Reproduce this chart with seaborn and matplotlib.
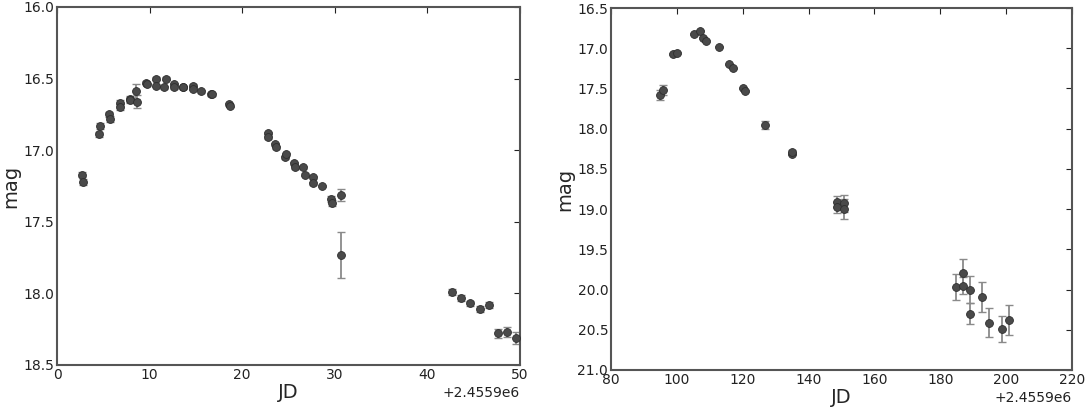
import numpy as np
import pandas as pd
import matplotlib
matplotlib.use("Agg")
import matplotlib.pyplot as plt
import seaborn as sns

JD0 = 2455900

# left panel: days after JD0, magnitude, error
jd_a = [2.74, 2.85, 4.58, 4.65, 5.66, 5.74, 6.75, 6.82, 7.83, 7.90, 8.55, 8.69,
        9.63, 9.70, 10.68, 10.71, 11.55, 11.72, 12.59, 12.66, 13.56, 13.62,
        14.64, 14.72, 15.58, 16.67, 16.72, 18.58, 18.65, 22.76, 22.80, 23.56,
        23.67, 24.60, 24.68, 25.58, 25.65, 26.55, 26.73, 27.60, 27.67, 28.64,
        29.62, 29.73, 30.63, 30.70, 42.64, 43.61, 44.59, 45.63, 46.61, 47.62,
        48.59, 49.60]
mag_a = [17.17, 17.22, 16.89, 16.83, 16.75, 16.78, 16.67, 16.70, 16.64, 16.65,
         16.59, 16.66, 16.53, 16.54, 16.50, 16.55, 16.56, 16.50, 16.54, 16.56,
         16.56, 16.56, 16.55, 16.57, 16.59, 16.61, 16.61, 16.68, 16.69, 16.88,
         16.91, 16.96, 16.98, 17.05, 17.03, 17.09, 17.12, 17.12, 17.17, 17.19,
         17.23, 17.25, 17.34, 17.37, 17.31, 17.73, 17.99, 18.03, 18.07, 18.11,
         18.08, 18.28, 18.27, 18.31]
err_a = [0.02, 0.02, 0.02, 0.02, 0.02, 0.02, 0.02, 0.02, 0.02, 0.02,
         0.05, 0.045, 0.01, 0.01, 0.01, 0.01, 0.01, 0.01, 0.01, 0.01,
         0.01, 0.01, 0.01, 0.01, 0.01, 0.01, 0.01, 0.01, 0.01, 0.01,
         0.01, 0.01, 0.01, 0.01, 0.01, 0.01, 0.01, 0.01, 0.01, 0.01,
         0.01, 0.01, 0.02, 0.02, 0.042, 0.162, 0.02, 0.02, 0.02, 0.02,
         0.02, 0.03, 0.038, 0.04]

# right panel
jd_b = [94.88, 95.89, 98.92, 100.13, 105.2, 107.03, 107.84, 108.85, 112.9,
        115.9, 117.1, 119.98, 120.8, 126.87, 134.97, 135.1, 148.7, 148.7,
        150.7, 150.9, 184.77, 187.0, 187.0, 188.9, 188.9, 192.8, 194.8,
        198.7, 201.0]
mag_b = [17.58, 17.52, 17.07, 17.06, 16.82, 16.78, 16.87, 16.91, 16.98,
         17.20, 17.25, 17.50, 17.53, 17.96, 18.31, 18.29, 18.91, 18.98,
         18.93, 19.00, 19.97, 19.80, 19.95, 20.00, 20.30, 20.09, 20.41,
         20.49, 20.38]
err_b = [0.06, 0.06, 0.01, 0.01, 0.01, 0.01, 0.01, 0.01, 0.01,
         0.01, 0.01, 0.01, 0.01, 0.05, 0.02, 0.02, 0.07, 0.07,
         0.10, 0.12, 0.16, 0.18, 0.11, 0.17, 0.13, 0.19, 0.18,
         0.16, 0.19]

df_a = pd.DataFrame({"JD": np.array(jd_a) + JD0, "mag": mag_a, "err": err_a})
df_b = pd.DataFrame({"JD": np.array(jd_b) + JD0, "mag": mag_b, "err": err_b})

sns.set_style("white")
plt.rcParams["font.family"] = ["DejaVu Sans"]

fig = plt.figure(figsize=(10.88, 4.09), dpi=100)
ax1 = fig.add_axes([0.0524, 0.1076, 0.4256, 0.8753])
ax2 = fig.add_axes([0.5616, 0.0954, 0.4237, 0.885])

panels = [(ax1, df_a, (JD0, JD0 + 50), (16.0, 18.5), np.arange(16.0, 18.51, 0.5)),
          (ax2, df_b, (JD0 + 80, JD0 + 220), (16.5, 21.0), np.arange(16.5, 21.01, 0.5))]

for ax, d, xl, yl, yt in panels:
    ax.errorbar(d["JD"], d["mag"], yerr=d["err"], fmt="none", ecolor="#8a8a8a",
                elinewidth=1.3, capsize=3, capthick=1.0, zorder=2)
    sns.scatterplot(data=d, x="JD", y="mag", ax=ax, color="#4a4a4a", s=32,
                    edgecolor="#2e2e2e", linewidth=0.6, zorder=3)
    ax.set_xlim(*xl)
    ax.set_ylim(yl[1], yl[0])
    ax.set_yticks(yt)
    ax.yaxis.set_major_formatter(matplotlib.ticker.FormatStrFormatter("%.1f"))
    ax.ticklabel_format(axis="x", useOffset=JD0)
    ax.set_xlabel("JD", fontsize=14, labelpad=1)
    ax.set_ylabel("mag", fontsize=14, labelpad=2)
    ax.tick_params(direction="in", top=True, right=True, length=4, width=0.8,
                   labelsize=10, colors="#222222", pad=2)
    ax.xaxis.get_offset_text().set_fontsize(10)
    for sp in ax.spines.values():
        sp.set_color("#555555")
        sp.set_linewidth(1.5)

ax1.set_xticks(np.arange(JD0, JD0 + 51, 10))
ax2.set_xticks(np.arange(JD0 + 80, JD0 + 221, 20))

plt.savefig("out.png", dpi=100)
